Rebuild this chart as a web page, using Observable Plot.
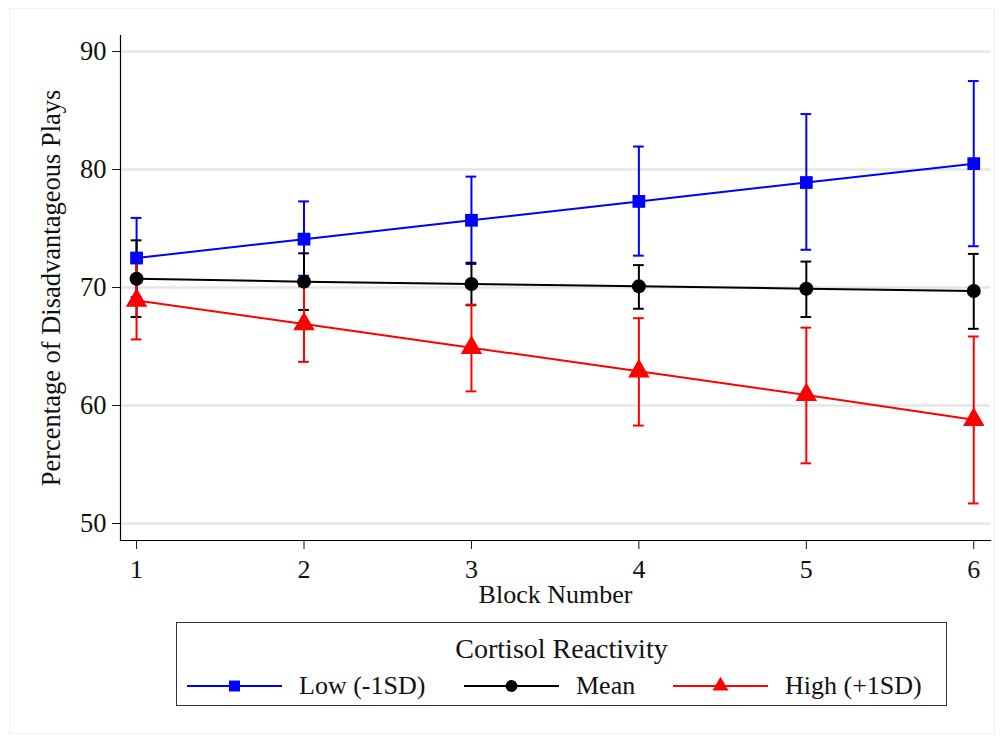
<!DOCTYPE html>
<html>
<head>
<meta charset="utf-8">
<script src="https://cdn.jsdelivr.net/npm/d3@7"></script>
<script src="https://cdn.jsdelivr.net/npm/@observablehq/plot@0.6"></script>
<style>
  html, body { margin: 0; padding: 0; background: #fff; }
  body { width: 1002px; height: 736px; position: relative; overflow: hidden; font-family: "Liberation Serif", serif; }
  #frame { position: absolute; left: 9px; top: 8px; width: 986px; height: 726px; border: 1px solid #eef1f3; box-sizing: border-box; }
  #chart { position: absolute; left: 0; top: 0; }
  #legend { position: absolute; left: 176px; top: 622px; width: 771px; height: 84px; border: 1.5px solid #333; box-sizing: border-box; background: #fff; }
  #legend .title { position: absolute; left: 0; right: 0; top: 11px; text-align: center; font-size: 28px; line-height: 30px; color: #111; }
  #legend .item { position: absolute; top: 48px; height: 30px; display: flex; align-items: center; font-size: 26px; color: #111; }
  #legend svg { display: block; }
</style>
</head>
<body>
<div id="frame"></div>
<div id="chart"></div>
<div id="legend"></div>
<script>
// ---- data ----
const blocks = [1, 2, 3, 4, 5, 6];
const yTicks = [50, 60, 70, 80, 90];
const seriesNames = ["Low (-1SD)", "Mean", "High (+1SD)"];
const seriesColors = ["#0000ff", "#000000", "#ff0000"];
const seriesSymbols = ["square", "circle", "triangle"];

const lowMean = [72.5, 74.1, 75.7, 77.3, 78.9, 80.5];
const lowLo   = [69.2, 71.0, 72.0, 72.7, 73.2, 73.5];
const lowHi   = [75.9, 77.3, 79.4, 81.95, 84.7, 87.5];

const avgMean = [70.75, 70.5, 70.3, 70.1, 69.9, 69.7];
const avgLo   = [67.5, 68.1, 68.5, 68.2, 67.5, 66.5];
const avgHi   = [74.0, 72.9, 72.1, 71.9, 72.2, 72.85];

const highMean = [68.9, 66.9, 64.9, 62.9, 60.9, 58.8];
const highLo   = [65.6, 63.7, 61.2, 58.3, 55.1, 51.7];
const highHi   = [72.2, 70.1, 68.55, 67.4, 66.6, 65.85];

// ---- build table ----
const means = [lowMean, avgMean, highMean];
const los = [lowLo, avgLo, highLo];
const his = [lowHi, avgHi, highHi];
const rows = [];
seriesNames.forEach((s, i) => {
  blocks.forEach((b, j) => {
    rows.push({series: s, idx: i, block: b, mean: means[i][j], lo: los[i][j], hi: his[i][j]});
  });
});

const capHalf = 0.032; // cap half-width in block units
const font = "'Liberation Serif', serif";

const marks = [
  Plot.gridY(yTicks, {stroke: "#e6e6e6", strokeOpacity: 1, strokeWidth: 2.5}),
  Plot.frame({anchor: "left", stroke: "#000", strokeWidth: 1.2}),
  Plot.frame({anchor: "bottom", stroke: "#000", strokeWidth: 1.2}),
  Plot.axisY(yTicks, {tickSize: 8, tickPadding: 6, label: "Percentage of Disadvantageous Plays",
    labelAnchor: "center", labelArrow: "none", labelOffset: 79, fontSize: 26.5}),
  Plot.axisX(blocks, {tickSize: 9, tickPadding: 10, tickFormat: d3.format("d"), label: "Block Number",
    labelAnchor: "center", labelArrow: "none", labelOffset: 62, fontSize: 26})
];

// error bars: blue, black, red
seriesNames.forEach((s, i) => {
  const d = rows.filter(r => r.idx === i);
  marks.push(
    Plot.ruleX(d, {x: "block", y1: "lo", y2: "hi", stroke: seriesColors[i], strokeWidth: 2}),
    Plot.ruleY(d, {y: "lo", x1: r => r.block - capHalf, x2: r => r.block + capHalf, stroke: seriesColors[i], strokeWidth: 2}),
    Plot.ruleY(d, {y: "hi", x1: r => r.block - capHalf, x2: r => r.block + capHalf, stroke: seriesColors[i], strokeWidth: 2})
  );
});
// lines + markers
seriesNames.forEach((s, i) => {
  const d = rows.filter(r => r.idx === i);
  const r = i === 0 ? 7.2 : (i === 1 ? 7 : 8);
  marks.push(
    Plot.line(d, {x: "block", y: "mean", stroke: seriesColors[i], strokeWidth: 2}),
    Plot.dot(d, {x: "block", y: "mean", fill: seriesColors[i], stroke: "none", symbol: seriesSymbols[i], r: r})
  );
});

const chart = Plot.plot({
  width: 1002,
  height: 620,
  marginLeft: 120,
  marginRight: 12,
  marginTop: 35,
  marginBottom: 80,
  x: {domain: [0.904, 6.10]},
  y: {domain: [48.56, 91.36]},
  style: {fontFamily: font, fontSize: "26px", color: "#111", background: "transparent", overflow: "visible"},
  marks
});
document.getElementById("chart").appendChild(chart);

// ---- legend ----
const legend = document.getElementById("legend");
const title = document.createElement("div");
title.className = "title";
title.textContent = "Cortisol Reactivity";
legend.appendChild(title);
const itemLefts = [10, 287, 496];
seriesNames.forEach((s, i) => {
  const item = document.createElement("div");
  item.className = "item";
  item.style.left = itemLefts[i] + "px";
  const ns = "http://www.w3.org/2000/svg";
  const sw = document.createElementNS(ns, "svg");
  sw.setAttribute("width", 96); sw.setAttribute("height", 20);
  const ln = document.createElementNS(ns, "line");
  ln.setAttribute("x1", 0); ln.setAttribute("x2", 95); ln.setAttribute("y1", 10); ln.setAttribute("y2", 10);
  ln.setAttribute("stroke", seriesColors[i]); ln.setAttribute("stroke-width", 2.2);
  sw.appendChild(ln);
  const sym = document.createElementNS(ns, "path");
  const symType = [d3.symbolSquare, d3.symbolCircle, d3.symbolTriangle][i];
  sym.setAttribute("d", d3.symbol(symType, [120, 110, 110][i])());
  sym.setAttribute("transform", "translate(47.5,10)");
  sym.setAttribute("fill", seriesColors[i]);
  sw.appendChild(sym);
  item.appendChild(sw);
  const lab = document.createElement("span");
  lab.textContent = s;
  lab.style.marginLeft = "16px";
  item.appendChild(lab);
  legend.appendChild(item);
});
</script>
</body>
</html>
